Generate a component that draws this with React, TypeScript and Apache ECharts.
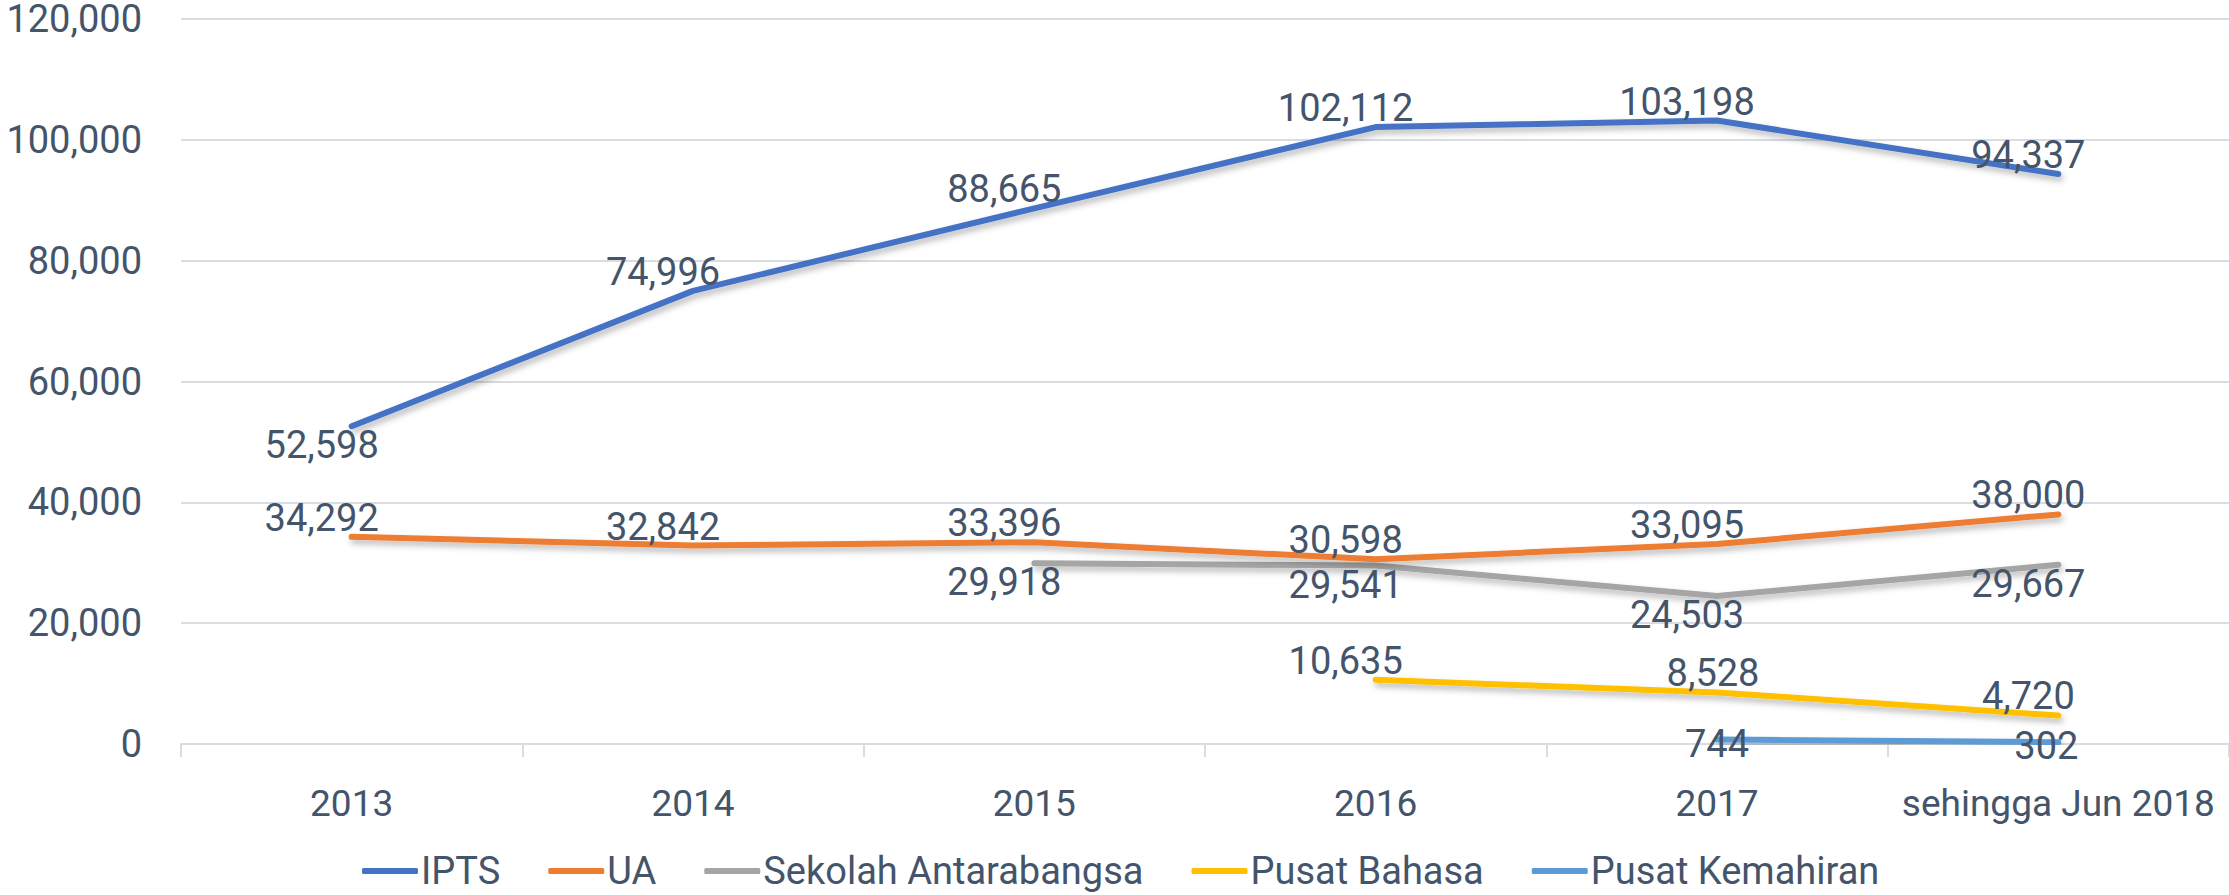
import React, { useEffect, useRef } from "react";
import * as echarts from "echarts";

const categories = ["2013", "2014", "2015", "2016", "2017", "sehingga Jun 2018"];
const seriesNames = ["IPTS", "UA", "Sekolah Antarabangsa", "Pusat Bahasa", "Pusat Kemahiran"];
const ipts = [52598, 74996, 88665, 102112, 103198, 94337];
const ua = [34292, 32842, 33396, 30598, 33095, 38000];
const sekolah = [null, null, 29918, 29541, 24503, 29667];
const pusatBahasa = [null, null, null, 10635, 8528, 4720];
const pusatKemahiran = [null, null, null, null, 744, 302];
const yTicks = { min: 0, max: 120000, interval: 20000 };

const colors = ["#4472C4", "#ED7D31", "#A5A5A5", "#FFC000", "#5B9BD5"];
const TEXT = "#44546A";
const FONT = "Roboto";

type Pos = "top" | "bottom" | "inside";

function build(values: (number | null)[], pos: Pos, overrides: Record<number, { pos?: Pos; dx?: number; dy?: number }> = {}) {
  return values.map((v, i) => {
    if (v === null) return null;
    const o = overrides[i] || {};
    return {
      value: v,
      label: {
        position: o.pos || pos,
        offset: [o.dx ?? -30, o.dy ?? 0],
      },
    };
  });
}

export default function App() {
  const ref = useRef<HTMLDivElement>(null);
  useEffect(() => {
    document.body.style.margin = "0";
    if (!ref.current) return;
    const chart = echarts.init(ref.current, undefined, { renderer: "svg" });
    const lineStyleFor = (c: string) => ({
      color: c,
      width: 6,
      cap: "round" as const,
      join: "round" as const,
      shadowColor: "rgba(0,0,0,0.28)",
      shadowBlur: 6,
      shadowOffsetX: 2,
      shadowOffsetY: 4,
    });
    const dataSets = [
      build(ipts, "top", { 0: { pos: "bottom" } }),
      build(ua, "top"),
      build(sekolah, "bottom"),
      build(pusatBahasa, "top", { 4: { dx: -4 } }),
      build(pusatKemahiran, "inside", { 4: { dx: 0, dy: 4 }, 5: { dx: -12, dy: 4 } }),
    ];
    chart.setOption({
      animation: false,
      backgroundColor: "#ffffff",
      textStyle: { fontFamily: FONT },
      grid: { left: 181, top: 19, width: 2052, height: 725, containLabel: false },
      legend: {
        data: seriesNames,
        left: 362,
        top: 851,
        padding: 0,
        icon: "roundRect",
        itemWidth: 56,
        itemHeight: 6,
        itemGap: 48,
        textStyle: { color: TEXT, fontSize: 38, lineHeight: 40, fontFamily: FONT, padding: [0, 0, 0, -2] },
      },
      xAxis: {
        type: "category",
        data: categories,
        boundaryGap: true,
        axisLine: { show: true, lineStyle: { color: "#D9DDE2", width: 2 } },
        axisTick: { show: true, length: 13, lineStyle: { color: "#D9DDE2", width: 2 } },
        axisLabel: { color: TEXT, fontSize: 37, margin: 41, interval: 0, fontFamily: FONT },
        splitLine: { show: false },
      },
      yAxis: {
        type: "value",
        min: yTicks.min,
        max: yTicks.max,
        interval: yTicks.interval,
        axisLine: { show: false },
        axisTick: { show: false },
        axisLabel: {
          color: TEXT,
          fontSize: 38,
          margin: 39,
          fontFamily: FONT,
          formatter: (v: number) => v.toLocaleString("en-US"),
        },
        splitLine: { show: true, lineStyle: { color: "#D9DDE2", width: 2 } },
      },
      series: seriesNames.map((name, k) => ({
        name,
        type: "line",
        data: dataSets[k],
        color: colors[k],
        symbol: "circle",
        symbolSize: 0,
        showSymbol: true,
        connectNulls: false,
        lineStyle: lineStyleFor(colors[k]),
        itemStyle: { color: colors[k] },
        label: {
          show: true,
          color: TEXT,
          fontSize: 38,
          fontFamily: FONT,
          distance: 0,
          formatter: (p: any) => Number(p.value).toLocaleString("en-US"),
        },
        emphasis: { disabled: true },
        z: 10 - k,
      })),
    });
    return () => chart.dispose();
  }, []);
  return <div ref={ref} style={{ width: 2229, height: 895 }} />;
}
